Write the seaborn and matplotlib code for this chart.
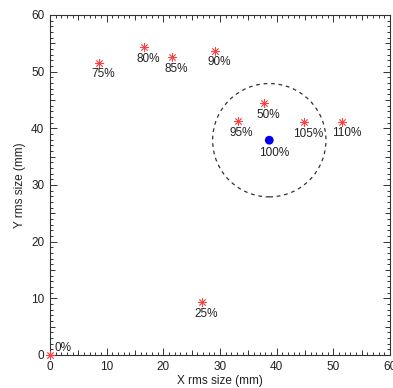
import matplotlib
matplotlib.use("Agg")
import matplotlib.pyplot as plt
from matplotlib.patches import Circle
from matplotlib.ticker import MultipleLocator, NullFormatter
import pandas as pd
import seaborn as sns

# ---- data ------------------------------------------------------------
labels = ["0%", "25%", "50%", "75%", "80%", "85%", "90%", "95%", "105%", "110%"]
x_rms = [0.0, 26.8, 37.8, 8.7, 16.6, 21.6, 29.2, 33.1, 44.8, 51.6]
y_rms = [0.0, 9.4, 44.5, 51.6, 54.3, 52.5, 53.7, 41.3, 41.1, 41.2]

ref_label = "100%"
ref_x = 38.7
ref_y = 37.9
ref_radius = 10.0

df = pd.DataFrame({"x": x_rms, "y": y_rms, "label": labels})

sns.set_style("ticks")
plt.rcParams["font.family"] = ["Liberation Sans", "DejaVu Sans"]

fig = plt.figure(figsize=(3.93, 3.88), dpi=100)
ax = fig.add_axes([0.1272, 0.0851, 0.8651, 0.8763])

sns.scatterplot(data=df, x="x", y="y", ax=ax, marker=(8, 2, 0), s=32,
                color="#ff4040", linewidth=0.6, edgecolor="#ff4040", legend=False,
                zorder=3, clip_on=False)
sns.scatterplot(x=[ref_x], y=[ref_y], ax=ax, color="#0000ee", s=40,
                edgecolor="none", legend=False, zorder=4)

ax.add_patch(Circle((ref_x, ref_y), ref_radius, fill=False, ec="#333333",
                    ls=(0, (3, 3)), lw=0.9))

for lab, xv, yv in zip(labels, x_rms, y_rms):
    if lab == "0%":
        ax.annotate(lab, (xv, yv), xytext=(3, 5), textcoords="offset points",
                    ha="left", va="center", fontsize=8.5, color="#222222")
    else:
        ax.annotate(lab, (xv, yv), xytext=(3, -8.5), textcoords="offset points",
                    ha="center", va="center", fontsize=8.5, color="#222222")
ax.annotate(ref_label, (ref_x, ref_y), xytext=(3.5, -9.5), textcoords="offset points",
            ha="center", va="center", fontsize=8.5, color="#222222")

ax.set_xlim(0, 60)
ax.set_ylim(0, 60)
ax.xaxis.set_major_locator(MultipleLocator(10))
ax.yaxis.set_major_locator(MultipleLocator(10))
ax.xaxis.set_minor_locator(MultipleLocator(1))
ax.yaxis.set_minor_locator(MultipleLocator(1))
ax.tick_params(which="both", direction="in", top=True, right=True,
               color="#333333", width=0.7, labelsize=8.5, labelcolor="#222222")
ax.tick_params(which="major", length=5, pad=4)
ax.tick_params(which="minor", length=2.2)
for sp in ax.spines.values():
    sp.set_visible(True)
    sp.set_color("#333333")
    sp.set_linewidth(0.8)

# medium ticks at every 5 mm, as in the IDL-style axes
for loc in ["bottom", "top"]:
    sec = ax.secondary_xaxis(loc)
    sec.set_xticks([5, 15, 25, 35, 45, 55])
    sec.xaxis.set_major_formatter(NullFormatter())
    sec.tick_params(direction="in", length=3.5, width=0.7, color="#333333")
    sec.spines[loc].set_visible(False)
for loc in ["left", "right"]:
    sec = ax.secondary_yaxis(loc)
    sec.set_yticks([5, 15, 25, 35, 45, 55])
    sec.yaxis.set_major_formatter(NullFormatter())
    sec.tick_params(direction="in", length=3.5, width=0.7, color="#333333")
    sec.spines[loc].set_visible(False)

ax.set_xlabel("X rms size (mm)", fontsize=8.5, color="#222222", labelpad=1.5)
ax.set_ylabel("Y rms size (mm)", fontsize=8.5, color="#222222", labelpad=4)

fig.savefig("out.png", dpi=100)
